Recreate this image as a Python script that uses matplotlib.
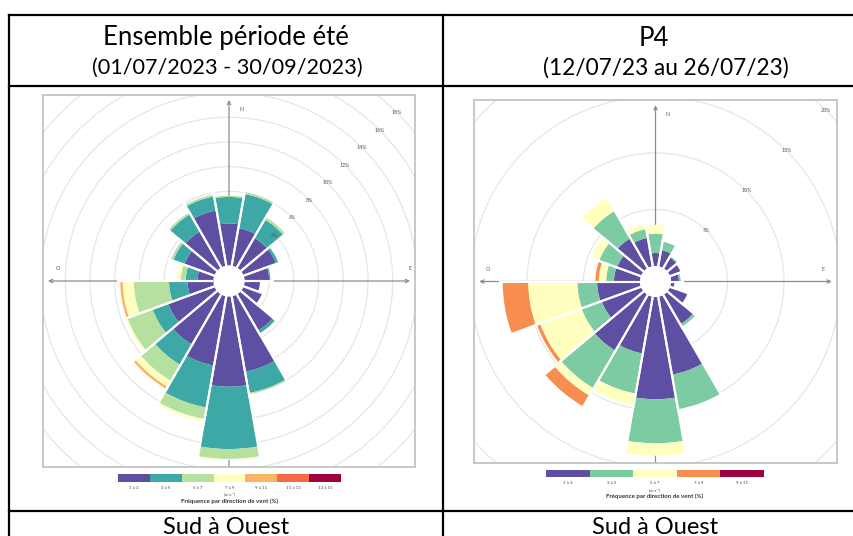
import numpy as np
import matplotlib
matplotlib.use("Agg")
import matplotlib.pyplot as plt
from matplotlib.patches import Wedge, Circle
from matplotlib.lines import Line2D

plt.rcParams["font.family"] = ["Lato", "DejaVu Sans"]

W, H = 854, 536

# 18 sectors of 20 degrees, N then clockwise
directions = np.arange(0, 360, 20)

# --- summer period rose: frequency (%) per speed class ---
ete_classes = ["1 à 3", "3 à 5", "5 à 7", "7 à 9", "9 à 11", "11 à 13", "13 à 15"]
ete_colors = ["#5e4fa2", "#3ea8a6", "#b6e0a0", "#fdfec0", "#fdb462", "#f26b45", "#9e0142"]
ete_1_3 = [3.4, 3.1, 2.8, 2.8, 2.0, 1.25, 1.6, 3.4, 6.2, 7.3, 5.7, 4.7, 4.0, 2.1, 1.3, 2.6, 3.4, 4.55]
ete_3_5 = [2.15, 2.8, 1.7, 0.2, 0.1, 0, 0, 0.25, 1.75, 5.05, 3.45, 1.9, 1.35, 1.5, 0.95, 0.95, 1.6, 1.15]
ete_5_7 = [0.1, 0.15, 0.2, 0, 0, 0, 0, 0, 0.1, 0.8, 0.95, 1.5, 2.15, 2.85, 0.4, 0.2, 0.15, 0.15]
ete_7_9 = [0, 0, 0, 0, 0, 0, 0, 0, 0, 0.1, 0.2, 0.55, 0.15, 0.9, 0.25, 0, 0, 0]
ete_9_11 = [0, 0, 0, 0, 0, 0, 0, 0, 0, 0, 0, 0.2, 0, 0.2, 0, 0, 0, 0]
ete_11_13 = [0] * 18
ete_13_15 = [0] * 18
ete_rings = [2, 4, 6, 8, 10, 12, 14, 16, 18, 20]
ete_ring_labels = [2, 4, 6, 8, 10, 12, 14, 16, 18]

# --- P4 rose ---
p4_classes = ["1 à 3", "3 à 5", "5 à 7", "7 à 9", "9 à 11"]
p4_colors = ["#5e4fa2", "#7ccba2", "#ffffbf", "#f78d4f", "#9e0142"]
p4_1_3 = [1.15, 1.45, 1.1, 1.0, 0.7, 0.3, 1.65, 3.0, 7.0, 9.05, 5.1, 5.7, 3.7, 3.8, 2.3, 2.25, 3.05, 2.55]
p4_3_5 = [1.7, 0.75, 0.1, 0, 0.15, 0, 0, 0.25, 3.1, 3.9, 3.6, 3.85, 1.9, 1.75, 0.7, 1.7, 2.8, 0.8]
p4_5_7 = [0.8, 0, 0, 0, 0, 0, 0, 0, 0, 1.1, 1.0, 0.75, 3.9, 4.35, 0.65, 0.7, 1.35, 0.45]
p4_7_9 = [0, 0, 0, 0, 0, 0, 0, 0, 0, 0, 0, 1.1, 0.3, 2.25, 0.3, 0, 0, 0]
p4_9_11 = [0] * 18
p4_rings = [5, 10, 15, 20]
p4_ring_labels = [5, 10, 15, 20]

compass = ["N", "O", "E"]


def px_rect(x0, y0, x1, y1):
    return [x0 / W, 1 - y1 / H, (x1 - x0) / W, (y1 - y0) / H]


def draw_rose(ax, series, colors, rings, ring_labels, hole, lim, arrow, lab_pos):
    ax.set_xlim(-lim, lim)
    ax.set_ylim(-lim, lim)
    ax.set_xticks([])
    ax.set_yticks([])
    for s in ax.spines.values():
        s.set_color("#c4c4c4")
        s.set_linewidth(1.3)

    for r in rings:
        ax.add_patch(Circle((0, 0), hole + r, fc="none", ec="#e6e6e6", lw=0.9, zorder=1))

    # axes
    ax.annotate("", xy=(arrow, 0), xytext=(-arrow, 0),
                arrowprops=dict(arrowstyle="<->", color="#8c8c8c", lw=0.9,
                                mutation_scale=6, shrinkA=0, shrinkB=0), zorder=2)
    ax.annotate("", xy=(0, arrow), xytext=(0, -lim),
                arrowprops=dict(arrowstyle="->", color="#8c8c8c", lw=0.9,
                                mutation_scale=6, shrinkA=0, shrinkB=0), zorder=2)

    totals = np.zeros(len(directions))
    for vals, col in zip(series, colors):
        vals = np.asarray(vals, dtype=float)
        for d, base, v in zip(directions, totals, vals):
            if v <= 0:
                continue
            t1, t2 = 90 - d - 10, 90 - d + 10
            ax.add_patch(Wedge((0, 0), hole + base + v, t1, t2, width=v,
                               fc=col, ec="none", zorder=3))
        totals = totals + vals

    # white separators between sectors
    for d, tot in zip(directions, totals):
        for a in (d - 10, d + 10):
            ang = np.deg2rad(90 - a)
            rr = np.array([hole, hole + tot + 0.3])
            ax.plot(rr * np.cos(ang), rr * np.sin(ang), color="white", lw=1.5,
                    solid_capstyle="butt", zorder=4)

    ax.add_patch(Circle((0, 0), hole, fc="white", ec="none", zorder=5))

    c45 = np.cos(np.pi / 4)
    for r in ring_labels:
        ax.text((hole + r) * c45, (hole + r) * c45, f"{r}%", fontsize=3.8,
                color="#555555", ha="center", va="center", zorder=6)

    for name, (x, y) in zip(compass, lab_pos):
        ax.text(x, y, name, fontsize=3.8, color="#555555", ha="center", va="center")


def draw_legend(fig, box, classes, colors, y_lab, y_unit, y_title):
    x0, y0, x1, y1 = box
    lax = fig.add_axes(px_rect(x0, y0, x1, y1))
    x = np.arange(len(classes))
    lax.bar(x, np.ones(len(classes)), width=1.0, color=colors[:len(classes)])
    lax.set_xlim(-0.5, len(classes) - 0.5)
    lax.set_ylim(0, 1)
    lax.axis("off")
    y_ax = -(y_lab - y1) / (y1 - y0)
    for xi, c in zip(x, classes):
        lax.text(xi, y_ax, c, fontsize=3.2, color="#444444", ha="center", va="center")
    cx = (x0 + x1) / 2
    fig.text(cx / W, 1 - y_unit / H, "(m s⁻¹)", fontsize=3.0, color="#444444",
             ha="center", va="center", family=["Lato", "DejaVu Sans"])
    fig.text(cx / W, 1 - y_title / H, "Fréquence par direction de vent (%)", fontsize=4.4,
             color="#333333", ha="center", va="center", fontweight="bold")


fig = plt.figure(figsize=(W / 100, H / 100), dpi=100)

# left rose
ax1 = fig.add_axes(px_rect(43, 95, 415, 467))
draw_rose(ax1, [ete_1_3, ete_3_5, ete_5_7, ete_7_9, ete_9_11, ete_11_13, ete_13_15],
          ete_colors, ete_rings, ete_ring_labels,
          hole=1.255, lim=15.06, arrow=14.66,
          lab_pos=[(1.05, 13.9), (-13.85, 1.05), (14.65, 1.05)])
draw_legend(fig, (118, 474, 341, 482), ete_classes, ete_colors, 488, 494, 501)

# right rose
ax2 = fig.add_axes(px_rect(474, 100, 837, 463))
draw_rose(ax2, [p4_1_3, p4_3_5, p4_5_7, p4_7_9, p4_9_11],
          p4_colors, p4_rings, p4_ring_labels,
          hole=1.37, lim=16.06, arrow=15.6,
          lab_pos=[(1.06, 14.8), (-14.85, 1.06), (14.8, 1.06)])
draw_legend(fig, (546, 470, 764, 477), p4_classes, p4_colors, 483, 490, 496.5)

# table lines
lw = 1.6
for y in (15, 86, 511):
    fig.add_artist(Line2D([9 / W, 1], [1 - y / H, 1 - y / H], color="black", lw=lw))
for x in (9, 443):
    fig.add_artist(Line2D([x / W, x / W], [1 - 15 / H, 0], color="black", lw=lw))

# header and footer texts
fig.text(226 / W, 1 - 38 / H, "Ensemble période été", fontsize=18.5, ha="center", va="center")
fig.text(227 / W, 1 - 68 / H, "(01/07/2023 - 30/09/2023)", fontsize=15.6, ha="center", va="center")
fig.text(654 / W, 1 - 38 / H, "P4", fontsize=18.5, ha="center", va="center")
fig.text(666 / W, 1 - 68 / H, "(12/07/23 au 26/07/23)", fontsize=16.3, ha="center", va="center")
fig.text(226 / W, 1 - 527 / H, "Sud à Ouest", fontsize=17, ha="center", va="center")
fig.text(655 / W, 1 - 527 / H, "Sud à Ouest", fontsize=17, ha="center", va="center")

fig.savefig("out.png", dpi=100)
